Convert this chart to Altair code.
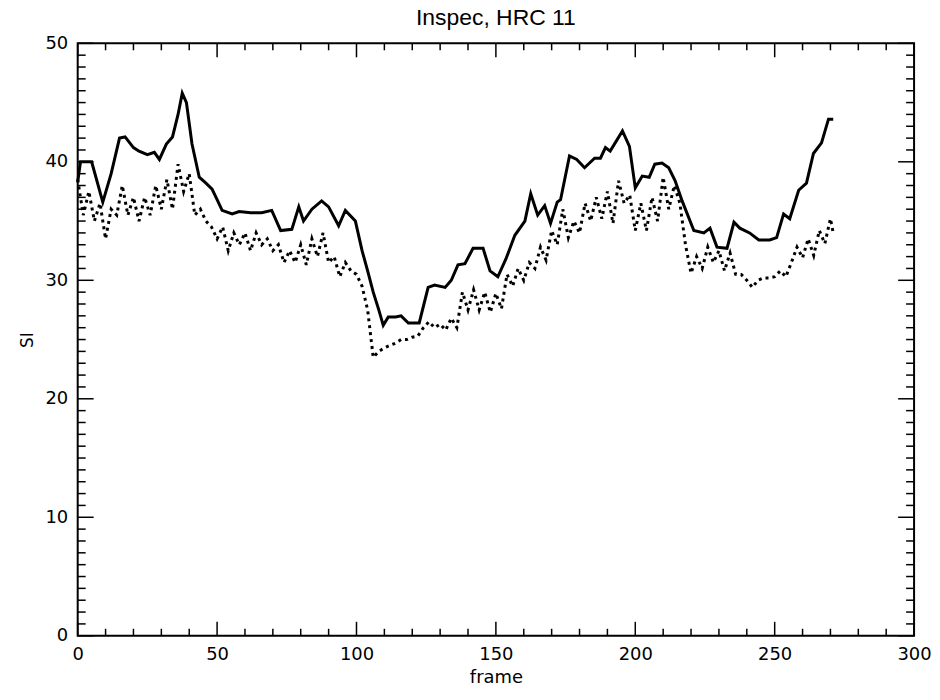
import altair as alt
import pandas as pd

# ---- data ----
solid_frame = [0, 1, 5, 9, 12, 15, 17, 20, 22, 25, 27.5, 29.3, 31.8, 34, 36, 37.5, 39, 41, 43.6, 46,
               48.2, 50, 51.8, 55.4, 57.9, 62, 66, 69.6, 72.8, 76.8, 79.3, 81, 84, 87.5, 90, 93.6, 96,
               99.6, 102, 104, 106, 108, 109.6, 111.4, 114, 116, 118.6, 122.5, 125.7, 128, 131.8, 134,
               136.4, 138.9, 141.8, 145.4, 147.9, 150.7, 153.6, 156.8, 160.4, 162.5, 165, 167.5, 169.6,
               172, 173.2, 176.4, 179, 181.8, 185.4, 187.5, 189.3, 191, 195.4, 197.9, 200, 202.5, 205,
               207, 209.6, 212, 214.3, 216.8, 221, 224.6, 226.8, 229.3, 232.9, 235.4, 237.5, 241, 244.3,
               248.2, 250.7, 253.2, 255.4, 258.6, 261.4, 263.9, 266.8, 269.3, 271]
solid_si = [38.3, 40.0, 40.0, 36.6, 39.0, 42.0, 42.1, 41.2, 40.9, 40.6, 40.8, 40.2, 41.5, 42.1, 44.0,
            45.8, 45.0, 41.5, 38.7, 38.2, 37.7, 36.8, 35.9, 35.6, 35.8, 35.7, 35.7, 35.9, 34.2, 34.3,
            36.2, 35.0, 36.0, 36.7, 36.2, 34.6, 35.9, 35.0, 32.5, 30.8, 29.0, 27.5, 26.2, 26.9, 26.9,
            27.0, 26.4, 26.4, 29.4, 29.6, 29.4, 30.0, 31.3, 31.4, 32.7, 32.7, 30.8, 30.3, 31.8, 33.8,
            35.0, 37.3, 35.5, 36.3, 34.8, 36.6, 36.8, 40.5, 40.2, 39.5, 40.3, 40.3, 41.2, 40.9, 42.6,
            41.3, 37.8, 38.8, 38.7, 39.8, 39.9, 39.5, 38.4, 36.7, 34.2, 34.0, 34.4, 32.8, 32.7, 34.9,
            34.4, 34.0, 33.4, 33.4, 33.6, 35.6, 35.2, 37.6, 38.2, 40.7, 41.6, 43.6, 43.6]

dot_frame = list(range(0, 272, 2)) + [271]
dot_si = [38.5, 35.5, 37.5, 35.0, 36.5, 33.5, 36.0, 35.5, 38.0, 35.5, 37.0, 35.0, 37.0, 35.5, 38.0,
          36.0, 38.5, 36.0, 39.8, 37.5, 39.0, 35.5, 36.0, 35.0, 34.5, 33.5, 34.5, 32.5, 34.0, 33.0,
          34.0, 32.5, 34.0, 33.0, 33.5, 32.5, 33.0, 31.5, 32.5, 31.5, 33.0, 31.3, 33.5, 32.0, 34.0,
          31.5, 32.0, 30.3, 31.5, 30.8, 30.5, 29.5, 27.5, 23.5, 24.0, 24.3, 24.5, 24.7, 25.0, 25.0,
          25.2, 25.3, 26.0, 26.5, 26.0, 26.3, 25.8, 26.8, 26.0, 29.0, 27.5, 29.2, 27.5, 29.0, 27.3,
          28.9, 27.6, 30.5, 29.5, 31.0, 30.0, 31.5, 31.0, 32.8, 31.7, 34.2, 33.0, 36.0, 33.6, 35.0,
          34.0, 36.5, 35.0, 37.0, 35.2, 37.5, 34.8, 38.4, 36.5, 37.2, 34.2, 36.5, 34.2, 37.0, 35.0,
          38.7, 36.0, 38.0, 36.5, 33.0, 30.6, 32.0, 31.0, 32.8, 31.5, 32.5, 30.8, 32.3, 30.5, 30.5,
          30.0, 29.4, 30.0, 30.2, 30.2, 30.3, 30.8, 30.3, 31.5, 32.8, 31.9, 33.5, 32.1, 34.2, 33.1,
          35.2, 34.0]

x_major = [0, 50, 100, 150, 200, 250, 300]
x_minor = [v for v in range(0, 301, 10) if v % 50 != 0]
y_major = [0, 10, 20, 30, 40, 50]
y_minor = [v for v in range(0, 51) if v % 10 != 0]

W, H = 840, 595

solid_df = pd.DataFrame({"frame": solid_frame, "SI": solid_si})
dot_df = pd.DataFrame({"frame": dot_frame, "SI": dot_si})

xs = alt.Scale(domain=[0, 300], nice=False, zero=False)
ys = alt.Scale(domain=[0, 50], nice=False, zero=False)

font = "DejaVu Sans"

x_axis = alt.Axis(values=x_major, ticks=False, grid=False, domain=False, labelPadding=10,
                  labelFontSize=18, labelFont=font, labelColor="black", title="frame",
                  titleFontSize=18, titleFont=font, titleFontWeight="normal", titleColor="black",
                  titlePadding=5, labelFlush=False)
y_axis = alt.Axis(values=y_major, ticks=False, grid=False, domain=False, labelPadding=10,
                  labelFontSize=18, labelFont=font, labelColor="black", title="SI",
                  titleFontSize=17, titleFont=font, titleFontWeight="normal", titleColor="black",
                  titlePadding=8, labelFlush=False)

solid = alt.Chart(solid_df).mark_line(color="black", strokeWidth=3, interpolate="linear").encode(
    x=alt.X("frame:Q", scale=xs, axis=x_axis),
    y=alt.Y("SI:Q", scale=ys, axis=y_axis),
)
dotted = alt.Chart(dot_df).mark_line(color="black", strokeWidth=3, strokeDash=[3, 4]).encode(
    x=alt.X("frame:Q", scale=xs),
    y=alt.Y("SI:Q", scale=ys),
)

def xticks(vals, length):
    df = pd.DataFrame({"frame": vals})
    base = alt.Chart(df).mark_rule(color="black", strokeWidth=1.5)
    bot = base.encode(x=alt.X("frame:Q", scale=xs), y=alt.value(H), y2=alt.value(H - length))
    top = base.encode(x=alt.X("frame:Q", scale=xs), y=alt.value(0), y2=alt.value(length))
    return [bot, top]

def yticks(vals, length):
    df = pd.DataFrame({"SI": vals})
    base = alt.Chart(df).mark_rule(color="black", strokeWidth=1.5)
    left = base.encode(y=alt.Y("SI:Q", scale=ys), x=alt.value(0), x2=alt.value(length))
    right = base.encode(y=alt.Y("SI:Q", scale=ys), x=alt.value(W), x2=alt.value(W - length))
    return [left, right]

layers = [solid, dotted] + xticks(x_major, 14) + xticks(x_minor, 7) + yticks(y_major, 16) + yticks(y_minor, 8)

chart = alt.layer(*layers).properties(
    width=W, height=H,
    background="white",
    title=alt.TitleParams("Inspec, HRC 11", fontSize=23, font="Liberation Sans",
                          fontWeight="normal", color="black", offset=4, anchor="middle"),
    autosize=alt.AutoSizeParams(type="none"),
    padding={"left": 70, "top": 34, "right": 18, "bottom": 54},
).configure_view(stroke="black", strokeWidth=2)

chart.save("out.html", embed_options={"renderer": "svg", "actions": False})
